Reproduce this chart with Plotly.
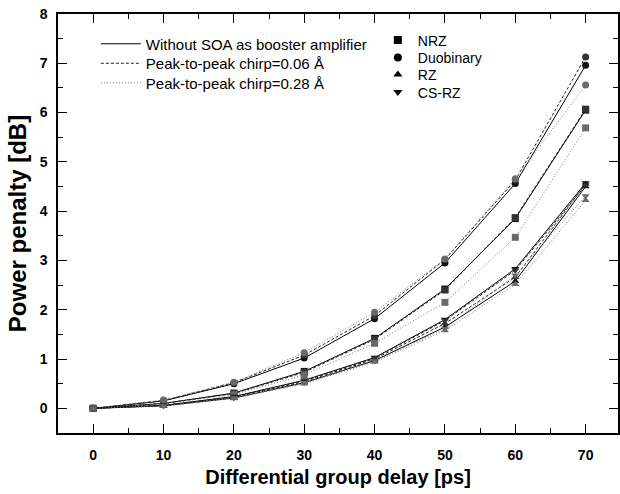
import plotly.graph_objects as go

dgd = [0, 10, 20, 30, 40, 50, 60, 70]

formats = ["NRZ", "Duobinary", "RZ", "CS-RZ"]
symbols = {"NRZ": "square", "Duobinary": "circle", "RZ": "triangle-up", "CS-RZ": "triangle-down"}

conditions = ["Without SOA as booster amplifier", "Peak-to-peak chirp=0.06 Å", "Peak-to-peak chirp=0.28 Å"]

# power penalty [dB] per format, per condition
nrz_nosoa = [0, 0.10, 0.31, 0.75, 1.42, 2.42, 3.85, 6.05]
nrz_c006 = [0, 0.10, 0.30, 0.73, 1.40, 2.40, 3.87, 6.07]
nrz_c028 = [0, 0.09, 0.28, 0.68, 1.32, 2.15, 3.47, 5.69]

duo_nosoa = [0, 0.15, 0.50, 1.02, 1.82, 2.95, 4.56, 6.96]
duo_c006 = [0, 0.16, 0.52, 1.08, 1.88, 3.02, 4.63, 7.13]
duo_c028 = [0, 0.17, 0.53, 1.13, 1.95, 3.03, 4.66, 6.56]

rz_nosoa = [0, 0.05, 0.21, 0.52, 0.97, 1.65, 2.58, 4.50]
rz_c006 = [0, 0.06, 0.22, 0.54, 1.00, 1.72, 2.66, 4.55]
rz_c028 = [0, 0.05, 0.20, 0.50, 0.94, 1.58, 2.52, 4.22]

csrz_nosoa = [0, 0.06, 0.24, 0.57, 1.03, 1.80, 2.83, 4.57]
csrz_c006 = [0, 0.06, 0.23, 0.56, 1.02, 1.78, 2.80, 4.53]
csrz_c028 = [0, 0.05, 0.21, 0.52, 0.96, 1.62, 2.70, 4.31]

data = {
    "NRZ": [nrz_nosoa, nrz_c006, nrz_c028],
    "Duobinary": [duo_nosoa, duo_c006, duo_c028],
    "RZ": [rz_nosoa, rz_c006, rz_c028],
    "CS-RZ": [csrz_nosoa, csrz_c006, csrz_c028],
}

line_styles = [
    dict(color="black", width=1, dash="solid"),
    dict(color="#222222", width=1, dash="3px,2px"),
    dict(color="#777777", width=1, dash="1px,2px"),
]
marker_colors = ["#111111", "#333333", "#6a6a6a"]

FONT = "Arial, Liberation Sans, sans-serif"
L, T, W, H, B = 58, 14, 620, 494, 61
pw = W - L
ph = H - B - T


def px_x(p):
    return (p - L) / pw


def px_y(p):
    return 1 - (p - T) / ph


fig = go.Figure()

for f in formats:
    for i, c in enumerate(conditions):
        fig.add_trace(go.Scatter(
            x=dgd, y=data[f][i], mode="lines+markers",
            line=line_styles[i],
            marker=dict(symbol=symbols[f], size=7, color=marker_colors[i]),
            showlegend=False,
        ))

legends = {}
# legend block 1: line styles, one legend per row
line_rows_y = [44, 63.5, 83]
for i, c in enumerate(conditions):
    lname = "legend" if i == 0 else f"legend{i + 1}"
    fig.add_trace(go.Scatter(
        x=[None], y=[None], mode="lines", name=c,
        line=line_styles[i], legend=lname,
    ))
    legends[lname] = dict(
        x=px_x(96), y=px_y(line_rows_y[i]), xanchor="left", yanchor="middle",
        bgcolor="rgba(0,0,0,0)", borderwidth=0, itemwidth=40,
        font=dict(size=15, family=FONT, color="black"),
    )

# legend block 2: marker symbols, one legend per row
marker_rows_y = [40.5, 58, 75, 92.5]
for j, f in enumerate(formats):
    lname = f"legend{j + 4}"
    fig.add_trace(go.Scatter(
        x=[None], y=[None], mode="markers", name=f,
        marker=dict(symbol=symbols[f], size=8, color="black"), legend=lname,
    ))
    legends[lname] = dict(
        x=px_x(379), y=px_y(marker_rows_y[j]), xanchor="left", yanchor="middle",
        bgcolor="rgba(0,0,0,0)", borderwidth=0,
        font=dict(size=14, family=FONT, color="black"),
    )

axis_common = dict(
    showline=True, linecolor="black", linewidth=1.5, mirror="ticks",
    ticks="inside", ticklen=9, tickwidth=1.2, tickcolor="black",
    showgrid=False, zeroline=False,
    tickfont=dict(family=FONT, size=14, color="black", weight="bold"),
)

fig.update_layout(
    width=W, height=H,
    margin=dict(l=L, r=0, t=T, b=B),
    paper_bgcolor="white", plot_bgcolor="white",
    font=dict(family=FONT, color="black"),
    xaxis=dict(
        range=[-5, 74.6], tickmode="linear", tick0=0, dtick=10,
        minor=dict(ticks="inside", ticklen=5, dtick=5, tick0=0, tickcolor="black", tickwidth=1),
        ticklabelstandoff=8,
        title=dict(text="Differential group delay [ps]", standoff=8,
                   font=dict(size=20, weight="bold", family=FONT)),
        **axis_common,
    ),
    yaxis=dict(
        range=[-0.5, 8], tickmode="linear", tick0=0, dtick=1,
        minor=dict(ticks="inside", ticklen=5, dtick=0.5, tick0=0, tickcolor="black", tickwidth=1),
        ticklabelstandoff=6,
        title=dict(text="Power penalty [dB]", standoff=6,
                   font=dict(size=24, weight="bold", family=FONT)),
        **axis_common,
    ),
    **legends,
)

fig.write_html("out.html")
